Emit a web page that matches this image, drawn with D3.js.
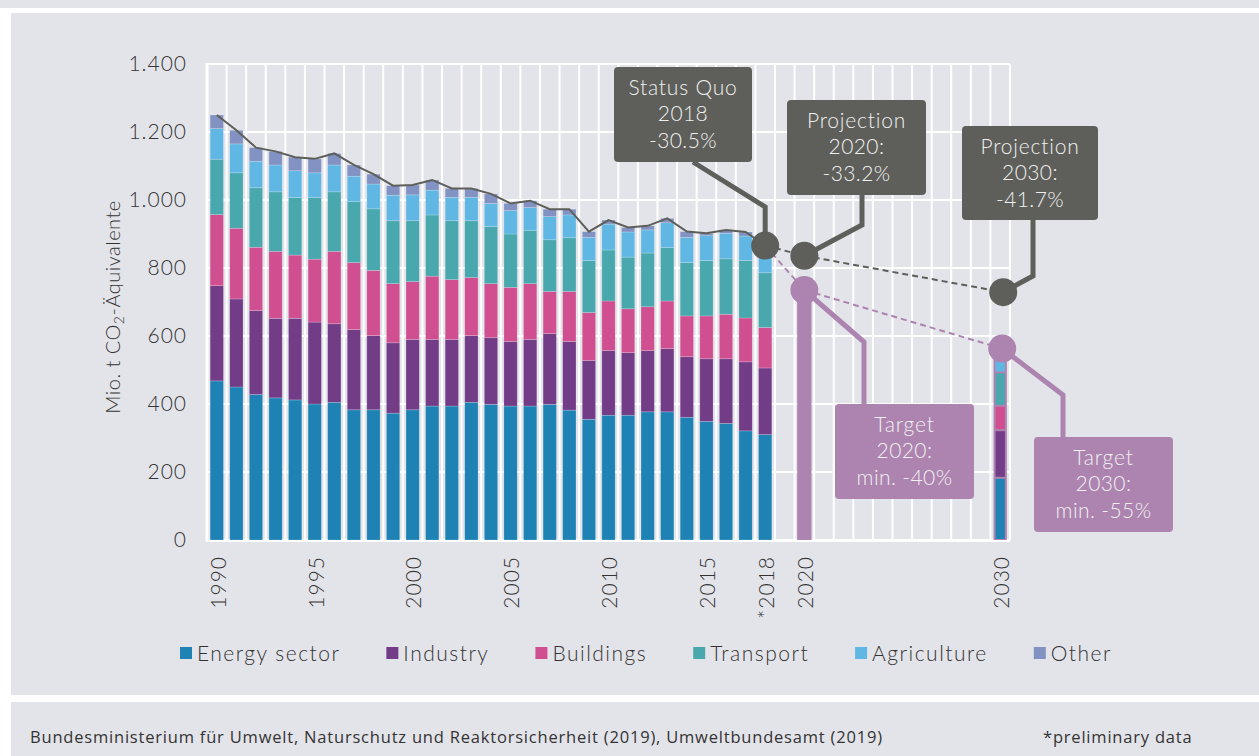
<!DOCTYPE html>
<html><head><meta charset="utf-8">
<script src="https://cdn.jsdelivr.net/npm/d3@7"></script>
<style>
html,body{margin:0;padding:0;background:#ffffff;}
svg{display:block;}
text{font-family:Lato,"Open Sans",sans-serif;}
</style></head>
<body>
<svg id="chart" width="1259" height="756"></svg>
<script>
// ---------------- DATA ----------------
const histYears = [1990,1991,1992,1993,1994,1995,1996,1997,1998,1999,2000,2001,2002,2003,2004,2005,2006,2007,2008,2009,2010,2011,2012,2013,2014,2015,2016,2017,2018];
const futureYears = [2019,2020,2021,2022,2023,2024,2025,2026,2027,2028,2029,2030];
const energy      = [468,450,428,418,412,400,405,383,383,373,383,394,394,405,399,394,394,399,382,355,367,367,377,377,361,349,343,321,310];
const industry    = [280,259,247,234,240,241,231,236,218,207,207,196,196,196,196,190,196,208,202,173,190,184,180,186,178,184,190,203,196];
const buildings   = [209,208,186,197,186,185,213,197,192,174,170,186,176,171,159,159,164,124,147,141,146,129,129,140,120,126,131,129,119];
const transport   = [163,163,175,175,169,181,175,179,181,185,179,180,173,167,168,157,157,152,158,153,150,152,158,157,157,163,163,169,161];
const agriculture = [90,85,78,79,79,73,79,75,73,75,76,73,69,69,68,69,67,68,67,68,76,74,68,73,74,73,75,72,70];
const other       = [40,40,40,40,40,41,34,33,29,28,29,30,26,26,28,21,20,22,17,17,12,13,12,13,17,7,10,12,10];
// 2030 sector targets (Energy, Industry, Buildings, Transport, Agriculture, Other)
const target2030Sectors = [183,140,72,98,61,5];
const statusQuo2018 = 866;
const projection2020 = 836;
const projection2030 = 729;
const target2020 = 735;
const target2030 = 563;

const sectorKeys   = ["energy","industry","buildings","transport","agriculture","other"];
const sectorLabels = ["Energy sector","Industry","Buildings","Transport","Agriculture","Other"];
const sectorColors = ["#1e83b4","#723c87","#d04f91","#48a8ae","#60b7e4","#8292c2"];
const yTicks = [0,200,400,600,800,1000,1200,1400];
const xTickYears = [1990,1995,2000,2005,2010,2015,2018,2020,2030];
const xTickLabels = ["1990","1995","2000","2005","2010","2015","*2018","2020","2030"];
const yTitle = ["Mio. t CO","2","-Äquivalente"];
const annotations = [
  {lines:["Status Quo","2018","-30.5%"], kind:"grey"},
  {lines:["Projection","2020:","-33.2%"], kind:"grey"},
  {lines:["Projection","2030:","-41.7%"], kind:"grey"},
  {lines:["Target","2020:","min. -40%"], kind:"lav"},
  {lines:["Target","2030:","min. -55%"], kind:"lav"}
];
const footerSource = "Bundesministerium für Umwelt, Naturschutz und Reaktorsicherheit (2019), Umweltbundesamt (2019)";
const footerNote = "*preliminary data";

// ---------------- LAYOUT ----------------
const BG = "#e3e4e9", GREY = "#5e5f5a", LAV = "#ad84b0", TXT = "#333333";
const svg = d3.select("#chart");
const plotL = 207, plotR = 1010, plotT = 64, plotB = 540;

svg.append("rect").attr("x",0).attr("y",0).attr("width",1259).attr("height",8).attr("fill",BG);
svg.append("rect").attr("x",11).attr("y",13).attr("width",1248).attr("height",682).attr("fill",BG);
svg.append("rect").attr("x",11).attr("y",702).attr("width",1248).attr("height",54).attr("fill",BG);

const allYears = histYears.concat(futureYears);
const x = d3.scaleBand().domain(allYears).range([plotL, plotR]).paddingInner(0.32).paddingOuter(0.16);
const y = d3.scaleLinear().domain([0,1400]).range([plotB, plotT]);
const bw = x.bandwidth(), step = x.step();
const cx = d => x(d) + bw/2;

// grid
const grid = svg.append("g");
const bounds = allYears.map(d => x(d) - (step - bw)/2).concat([plotR]);
grid.selectAll("line.v").data(bounds).join("line")
  .attr("x1", d=>d).attr("x2", d=>d).attr("y1", y(1400)).attr("y2", y(0))
  .attr("stroke","#fff").attr("stroke-width",2);
grid.selectAll("line.h").data(yTicks).join("line")
  .attr("x1", plotL).attr("x2", plotR).attr("y1", d=>y(d)).attr("y2", d=>y(d))
  .attr("stroke","#fff").attr("stroke-width",2);
grid.append("line").attr("x1",plotL).attr("x2",plotL).attr("y1",y(1400)-1).attr("y2",y(0)+1.5).attr("stroke","#fff").attr("stroke-width",3);
grid.append("line").attr("x1",plotL).attr("x2",plotR).attr("y1",y(0)+0.5).attr("y2",y(0)+0.5).attr("stroke","#fff").attr("stroke-width",3);

// stacked bars
const rows = histYears.map((yr,i)=>({year:yr, energy:energy[i], industry:industry[i], buildings:buildings[i], transport:transport[i], agriculture:agriculture[i], other:other[i]}));
const stack = d3.stack().keys(sectorKeys)(rows);
const bars = svg.append("g");
stack.forEach((s,k)=>{
  bars.selectAll(null).data(s).join("rect")
    .attr("x", d=>x(d.data.year)).attr("width", bw)
    .attr("y", d=>y(d[1])).attr("height", d=>y(d[0])-y(d[1]))
    .attr("fill", sectorColors[k])
    .attr("stroke","rgba(255,255,255,0.28)").attr("stroke-width",0.7);
});

// 2020 target bar
svg.append("rect").attr("x", x(2020)-0.5).attr("width", bw+1)
  .attr("y", y(target2020)).attr("height", y(0)-y(target2020)).attr("fill", LAV);

// 2030 target stacked bar
const row2030 = {year:2030};
sectorKeys.forEach((k,i)=>row2030[k]=target2030Sectors[i]);
const st2030 = d3.stack().keys(sectorKeys)([row2030]);
const tot2030 = d3.sum(target2030Sectors);
svg.append("rect").attr("x", x(2030)).attr("width", bw)
  .attr("y", y(tot2030)).attr("height", y(0)-y(tot2030)).attr("fill", LAV);
st2030.forEach((s,k)=>{
  const d = s[0];
  svg.append("rect").attr("x", x(2030)+2).attr("width", bw-4)
    .attr("y", y(d[1])+1).attr("height", Math.max(0, y(d[0])-y(d[1])-2))
    .attr("fill", sectorColors[k]);
});

// total line
const totals = rows.map(r=>({year:r.year, total:sectorKeys.reduce((a,k)=>a+r[k],0)}));
svg.append("path").datum(totals)
  .attr("d", d3.line().x(d=>cx(d.year)).y(d=>y(d.total)))
  .attr("fill","none").attr("stroke",GREY).attr("stroke-width",2);

// marker points
const pSQ = [cx(2018), y(statusQuo2018)];
const pP20 = [cx(2020), y(projection2020)];
const pP30 = [cx(2030)+3, y(projection2030)];
const pT20 = [cx(2020), y(target2020)];
const pT30 = [cx(2030)+2, y(target2030)];

svg.append("path").attr("d", d3.line()([pSQ,pP20,pP30]))
  .attr("fill","none").attr("stroke",GREY).attr("stroke-width",2).attr("stroke-dasharray","6,4");
svg.append("path").attr("d", d3.line()([pSQ,pT20,pT30]))
  .attr("fill","none").attr("stroke",LAV).attr("stroke-width",2).attr("stroke-dasharray","6,4");

// annotation boxes (pixel layout) and leaders
const boxes = [
  {x:614, y:67,  w:138, h:95, leader:[[693,162],[pSQ[0],207],pSQ]},
  {x:787, y:100, w:139, h:95, leader:[[862,195],[862,225],pP20]},
  {x:962, y:126, w:136, h:94, leader:[[1033,219],[1033,276],pP30]},
  {x:835, y:404, w:139, h:95, leader:[[864,404],[864,342],pT20]},
  {x:1034,y:437, w:139, h:95, leader:[[1063,437],[1063,395],pT30]}
];
const ann = svg.append("g");
boxes.forEach((b,i)=>{
  const col = annotations[i].kind==="grey" ? GREY : LAV;
  ann.append("path").attr("d", d3.line()(b.leader)).attr("fill","none")
    .attr("stroke",col).attr("stroke-width",5).attr("stroke-linejoin","miter");
});
[[pSQ,GREY],[pP20,GREY],[pP30,GREY],[pT20,LAV],[pT30,LAV]].forEach(([p,c])=>{
  ann.append("circle").attr("cx",p[0]).attr("cy",p[1]).attr("r",14).attr("fill",c);
});
boxes.forEach((b,i)=>{
  const col = annotations[i].kind==="grey" ? GREY : LAV;
  ann.append("rect").attr("x",b.x).attr("y",b.y).attr("width",b.w).attr("height",b.h)
    .attr("rx",4).attr("fill",col);
  annotations[i].lines.forEach((t,j)=>{
    ann.append("text").attr("x", b.x+b.w/2).attr("y", b.y+20+26.7*j).attr("dy","0.36em")
      .attr("text-anchor","middle").attr("fill","#f0f0f0")
      .style("font-size","21px").style("font-weight",300).style("letter-spacing", j===0?"0.8px":"0.4px")
      .text(t);
  });
});

// y axis
const deLocale = d3.formatLocale({decimal:",", thousands:".", grouping:[3], currency:["","€"]});
const yAxis = svg.append("g").attr("transform",`translate(${plotL-20},0)`)
  .call(d3.axisLeft(y).tickValues(yTicks).tickFormat(deLocale.format(",d")).tickSize(0).tickPadding(0));
yAxis.select(".domain").remove();
yAxis.selectAll("text").attr("fill",TXT).style("font-size","21px").style("font-weight",300)
  .style("letter-spacing","1px").style("font-family","Lato,sans-serif");

// y title
const yt = svg.append("text").attr("transform","translate(120,307) rotate(-90)")
  .attr("text-anchor","middle").attr("fill",TXT).style("font-size","20px").style("font-weight",300)
  .style("letter-spacing","0.5px");
yt.append("tspan").text(yTitle[0]);
yt.append("tspan").attr("baseline-shift","-25%").style("font-size","14px").text(yTitle[1]);
yt.append("tspan").text(yTitle[2]);

// x axis
const xAxis = svg.append("g").attr("transform",`translate(0,${plotB})`)
  .call(d3.axisBottom(x).tickValues(xTickYears).tickFormat((d,i)=>xTickLabels[i]).tickSize(0).tickPadding(0));
xAxis.select(".domain").remove();
xAxis.selectAll("text").attr("transform","rotate(-90)").attr("text-anchor","end")
  .attr("x",-16).attr("y",0).attr("dy","0.42em")
  .attr("fill",TXT).style("font-size","21px").style("font-weight",300).style("letter-spacing","1px")
  .style("font-family","Lato,sans-serif");

// legend
const leg = svg.append("g");
let lx = 180;
sectorLabels.forEach((lab,i)=>{
  leg.append("rect").attr("x",lx).attr("y",647).attr("width",12).attr("height",12).attr("fill",sectorColors[i]);
  const t = leg.append("text").attr("x",lx+17).attr("y",653).attr("dy","0.36em").attr("fill",TXT)
    .style("font-size","21px").style("font-weight",300).style("letter-spacing","1.5px").text(lab);
  lx += 17 + t.node().getComputedTextLength() + 46;
});

// footer
svg.append("text").attr("x",30).attr("y",737).attr("dy","0.35em").attr("fill",TXT)
  .style("font-family","'Open Sans',sans-serif").style("font-size","16.5px").style("letter-spacing","0.8px").text(footerSource);
svg.append("text").attr("x",1043).attr("y",737).attr("dy","0.35em").attr("fill",TXT)
  .style("font-family","'Open Sans',sans-serif").style("font-size","16.5px").style("letter-spacing","0.8px").text(footerNote);
</script>
</body></html>
